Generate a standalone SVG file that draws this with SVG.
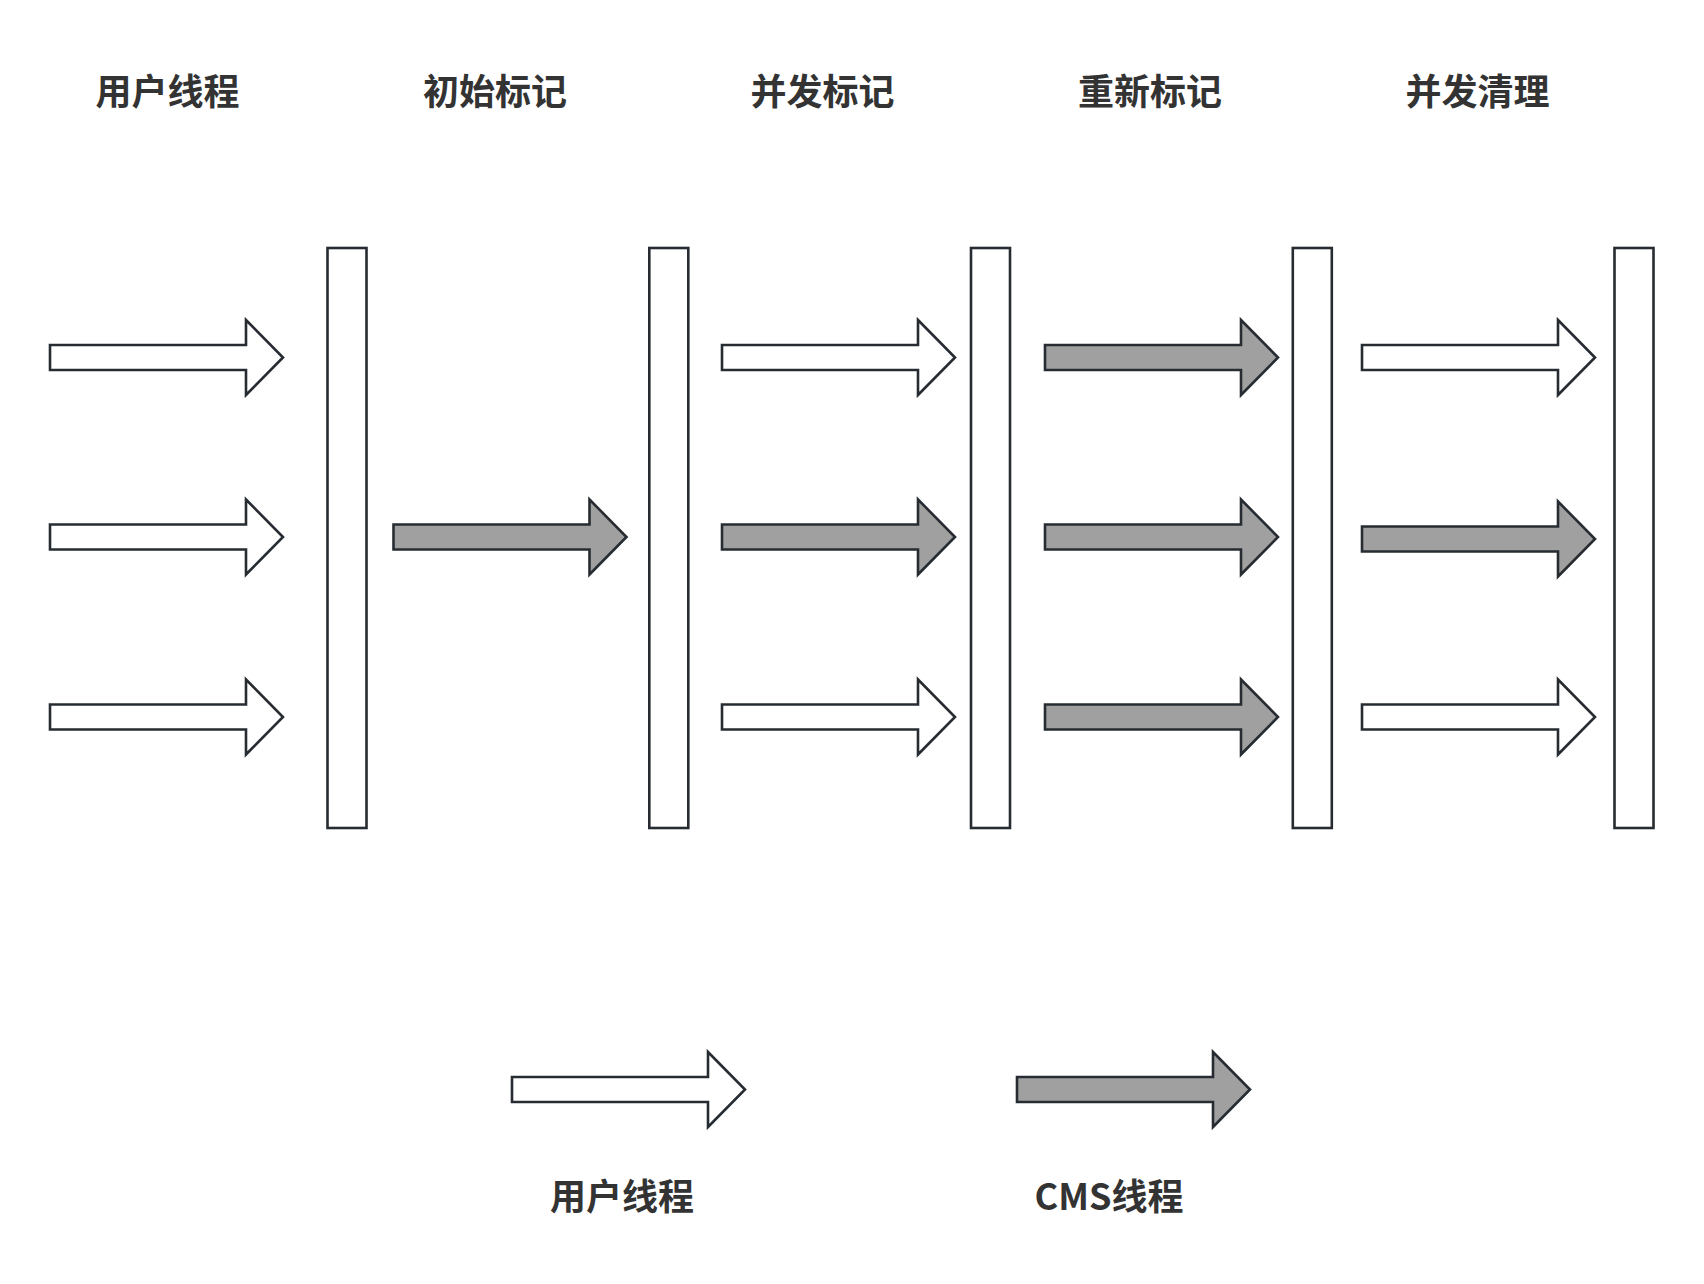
<svg xmlns="http://www.w3.org/2000/svg" xmlns:xlink="http://www.w3.org/1999/xlink" width="1704" height="1284" viewBox="0 0 1704 1284">
  <style>
    .bar { fill: #ffffff; stroke: #262c31; stroke-width: 2.6; }
    .ua { fill: #ffffff; stroke: #262c31; stroke-width: 2.6; stroke-linejoin: miter; }
    .ca { fill: #a0a0a0; stroke: #262c31; stroke-width: 2.6; stroke-linejoin: miter; }
    .lbl { font-family: "Noto Sans CJK SC", "Noto Sans", "Liberation Sans", sans-serif; font-weight: bold; font-size: 36px; fill: #333333; text-anchor: middle; }
  </style>
  <defs>
    <path id="arrow" d="M0,-12.5 H196 V-37.5 L233,0 L196,37.5 V12.5 H0 Z"/>
  </defs>
  <rect width="1704" height="1284" fill="#ffffff"/>

  <g id="titles">
    <text class="lbl" x="167.5" y="105">用户线程</text>
    <text class="lbl" x="495" y="105">初始标记</text>
    <text class="lbl" x="822.5" y="105">并发标记</text>
    <text class="lbl" x="1150" y="105">重新标记</text>
    <text class="lbl" x="1477.5" y="105">并发清理</text>
  </g>

  <g id="bar1"><rect class="bar" x="327.5" y="248" width="39" height="580"/></g>
  <g id="bar2"><rect class="bar" x="649.3" y="248" width="39" height="580"/></g>
  <g id="bar3"><rect class="bar" x="971" y="248" width="39" height="580"/></g>
  <g id="bar4"><rect class="bar" x="1292.8" y="248" width="39" height="580"/></g>
  <g id="bar5"><rect class="bar" x="1614.5" y="248" width="39" height="580"/></g>

  <g id="connectors">
    <g id="col1">
      <use xlink:href="#arrow" href="#arrow" class="ua" x="50" y="357.5"/>
      <use xlink:href="#arrow" href="#arrow" class="ua" x="50" y="537"/>
      <use xlink:href="#arrow" href="#arrow" class="ua" x="50" y="717"/>
    </g>
    <g id="col2">
      <use xlink:href="#arrow" href="#arrow" class="ca" x="393.5" y="537"/>
    </g>
    <g id="col3">
      <use xlink:href="#arrow" href="#arrow" class="ua" x="722" y="357.5"/>
      <use xlink:href="#arrow" href="#arrow" class="ca" x="722" y="537"/>
      <use xlink:href="#arrow" href="#arrow" class="ua" x="722" y="717"/>
    </g>
    <g id="col4">
      <use xlink:href="#arrow" href="#arrow" class="ca" x="1045" y="357.5"/>
      <use xlink:href="#arrow" href="#arrow" class="ca" x="1045" y="537"/>
      <use xlink:href="#arrow" href="#arrow" class="ca" x="1045" y="717"/>
    </g>
    <g id="col5">
      <use xlink:href="#arrow" href="#arrow" class="ua" x="1362" y="357.5"/>
      <use xlink:href="#arrow" href="#arrow" class="ca" x="1362" y="539"/>
      <use xlink:href="#arrow" href="#arrow" class="ua" x="1362" y="717"/>
    </g>
  </g>

  <g id="legend-user">
    <use xlink:href="#arrow" href="#arrow" class="ua" x="512" y="1089.5"/>
    <text class="lbl" x="622" y="1209.5">用户线程</text>
  </g>
  <g id="legend-cms">
    <use xlink:href="#arrow" href="#arrow" class="ca" x="1017" y="1089.5"/>
    <text class="lbl" x="1109" y="1209.5">CMS线程</text>
  </g>
</svg>
